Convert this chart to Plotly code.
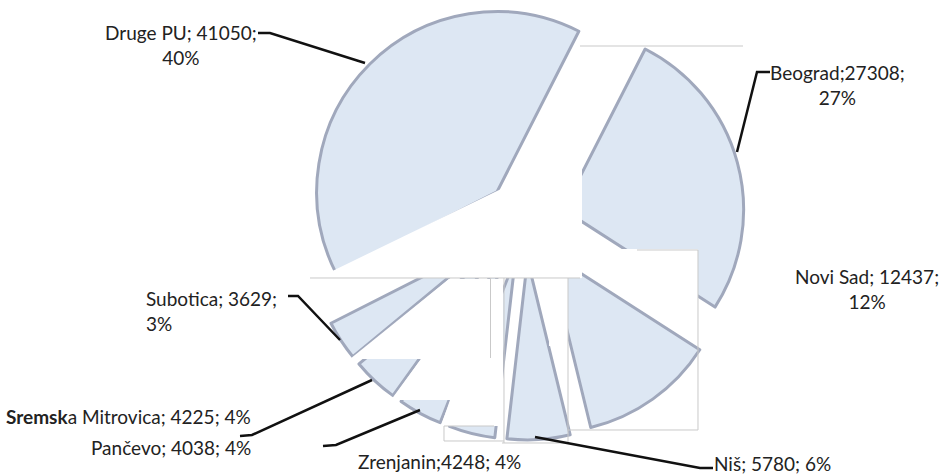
import plotly.graph_objects as go

W, H = 939, 476

labels = ["Beograd", "Novi Sad", "Niš", "Zrenjanin", "Pančevo",
          "Sremska Mitrovica", "Subotica", "Druge PU"]
values = [27308, 12437, 5780, 4248, 4038, 4225, 3629, 41050]
percents = ["27%", "12%", "6%", "4%", "4%", "4%", "3%", "40%"]
pulls = [0.22] * 8

def px(x):
    return x / W

def py(y):
    return 1 - y / H

# pie: centre ~ (525,220) px, radius ~180 px
fig = go.Figure(go.Pie(
    labels=labels, values=values, sort=False, direction="clockwise",
    rotation=27, pull=pulls, textinfo="none", hoverinfo="label+value+percent",
    marker=dict(colors=["#dde7f3"] * 8, line=dict(color="#a0a8bc", width=3)),
    domain=dict(x=[px(305), px(745)], y=[py(440), py(0)]),
    showlegend=False,
))

font = dict(family="Lato, Open Sans, sans-serif", size=19, color="#222222")

ann = [
    dict(text=f"{labels[7]}; {values[7]};<br>{percents[7]}", x=px(181), y=py(45), align="center", xanchor="center"),
    dict(text=f"{labels[0]};{values[0]};<br>{percents[0]}", x=px(837), y=py(85), align="center", xanchor="center"),
    dict(text=f"{labels[1]}; {values[1]};<br>{percents[1]}", x=px(867), y=py(289), align="center", xanchor="center"),
    dict(text=f"{labels[6]}; {values[6]};<br>{percents[6]}", x=px(144), y=py(311), align="left", xanchor="left"),
    dict(text=f"<b>Sremsk</b>a Mitrovica; {values[5]}; {percents[5]}", x=px(253), y=py(416), align="right", xanchor="right"),
    dict(text=f"{labels[4]}; {values[4]}; {percents[4]}", x=px(253), y=py(447), align="right", xanchor="right"),
    dict(text=f"{labels[3]};{values[3]}; {percents[3]}", x=px(439), y=py(461), align="center", xanchor="center"),
    dict(text=f"{labels[2]}; {values[2]}; {percents[2]}", x=px(772), y=py(463), align="center", xanchor="center"),
]
for a in ann:
    a.update(xref="paper", yref="paper", yanchor="middle", showarrow=False, font=font)

def path(pts, close=False):
    d = "M " + " L ".join(f"{px(x):.5f},{py(y):.5f}" for x, y in pts)
    return d + (" Z" if close else "")

shapes = []

# white masks reproducing the clipped slice tiles of the original picture
masks = [
    [(497, 191), (582, 150), (582, 278), (318, 278)],
    [(449, 279), (503, 279), (503, 359), (350, 359)],
    [(421, 359), (503, 359), (503, 400), (391, 400)],
    [(450, 400), (503, 400), (503, 426), (441, 426)],
    [(549, 270), (568, 270), (568, 346), (549, 346)],
    [(570, 249), (698, 249), (698, 345), (570, 263)],
]
for m in masks:
    shapes.append(dict(type="path", path=path(m, True), xref="paper", yref="paper",
                       fillcolor="white", line=dict(width=0), layer="above"))

# faint tile borders
grey = dict(color="#c9c9c9", width=1)
borders = [
    [(310, 278), (580, 278)],
    [(490.5, 278), (490.5, 358)],
    [(504, 278), (504, 443)],
    [(568, 278), (568, 443)],
    [(502, 443), (568, 443)],
    [(568, 430), (698, 430)],
    [(698, 250), (698, 430)],
    [(637, 250), (698, 250)],
    [(580, 46), (743, 46)],
    [(444, 426), (494, 426)],
    [(444, 426), (444, 441)],
    [(444, 441), (504, 441)],
]
for b in borders:
    shapes.append(dict(type="path", path=path(b), xref="paper", yref="paper",
                       line=grey, layer="above"))

# leader lines (label -> slice)
leaders = [
    [(258, 33), (270, 33), (365, 63)],
    [(770, 72), (757, 72), (737, 152)],
    [(288, 296), (298, 296), (340, 340)],
    [(240, 436), (252, 435), (372, 380)],
    [(323, 446), (336, 445), (420, 410)],
    [(713, 468), (700, 468), (535, 437)],
]
for pts in leaders:
    shapes.append(dict(type="path", path=path(pts), xref="paper", yref="paper",
                       line=dict(color="#111111", width=2.5), layer="above"))

fig.update_layout(
    width=W, height=H, margin=dict(l=0, r=0, t=0, b=0),
    paper_bgcolor="white", plot_bgcolor="white",
    annotations=ann, shapes=shapes,
)

fig.write_html("out.html", config={"displayModeBar": False},
               post_script="document.body.style.margin='0';document.body.style.overflow='hidden';")
